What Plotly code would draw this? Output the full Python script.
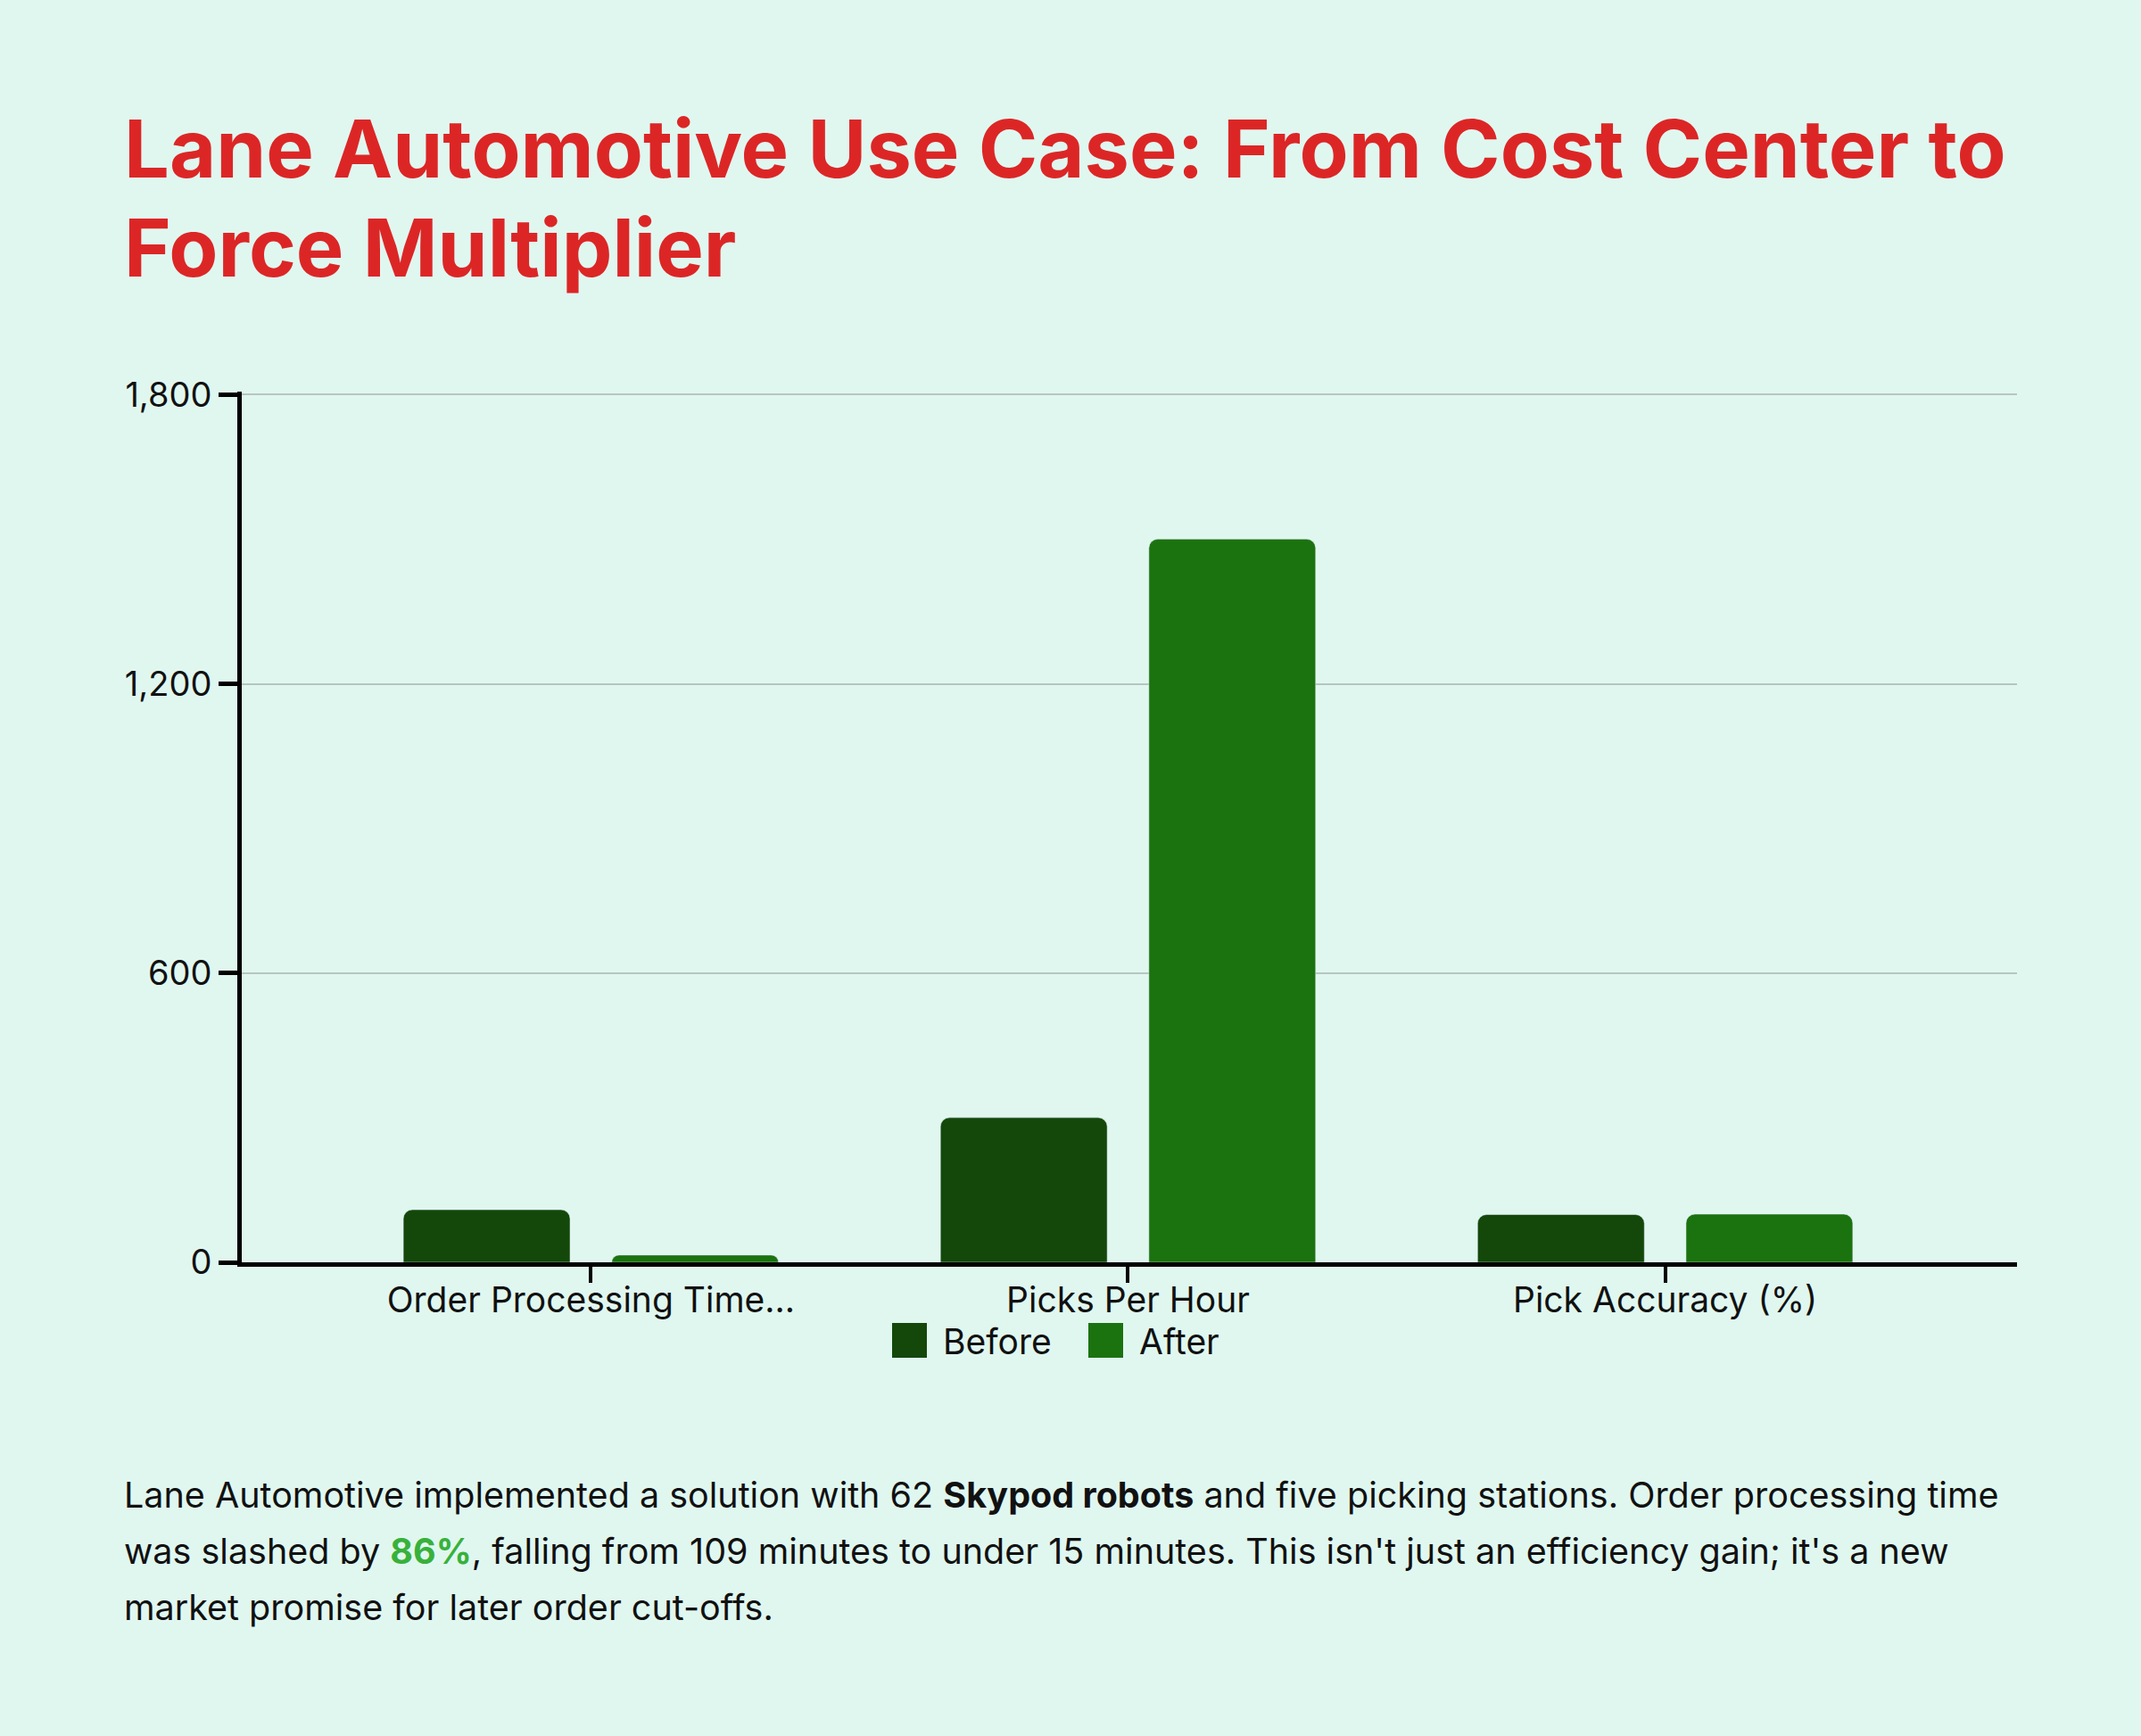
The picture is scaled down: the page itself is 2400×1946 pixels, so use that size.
import plotly.graph_objects as go

# ---- data ----
categories = ["Order Processing Time...", "Picks Per Hour", "Pick Accuracy (%)"]
before_values = [109, 300, 99]
after_values = [15, 1500, 99.9]
series_names = ["Before", "After"]
y_tick_values = [0, 600, 1200, 1800]

title_lines = ["Lane Automotive Use Case: From Cost Center to", "Force Multiplier"]
body_lines = [
    "Lane Automotive implemented a solution with 62 <b>Skypod robots</b> and five picking stations. Order processing time",
    "was slashed by <b><span style='color:#38b13a'>86%</span></b>, falling from 109 minutes to under 15 minutes. This isn't just an efficiency gain; it's a new",
    "market promise for later order cut-offs.",
]

# ---- style ----
W, H = 2400, 1946
BG = "#e0f7f0"
C_BEFORE = "#13480a"
C_AFTER = "#1b730f"
FONT = "Inter"
L, R, T, B = 271, 2261, 439, 1415


def px2x(px):
    return (px - L) / (R - L)


def py2y(py):
    return (B - py) / (B - T)


fig = go.Figure()
fig.add_bar(x=categories, y=before_values, name=series_names[0],
            marker=dict(color=C_BEFORE), showlegend=False)
fig.add_bar(x=categories, y=after_values, name=series_names[1],
            marker=dict(color=C_AFTER), showlegend=False)

fig.update_layout(
    width=W, height=H,
    margin=dict(l=L, r=W - R, t=T, b=H - B, autoexpand=False),
    paper_bgcolor=BG, plot_bgcolor=BG,
    barmode="group", bargap=0.224, bargroupgap=0.2, barcornerradius=10,
    font=dict(family=FONT, color="#111111"),
    showlegend=False,
)

fig.update_xaxes(
    type="category", range=[-0.65, 2.655],
    showline=True, linewidth=5, linecolor="#000000",
    ticks="outside", ticklen=18, tickwidth=4, tickcolor="#000000",
    ticklabelstandoff=-14,
    tickfont=dict(size=39, family=FONT, color="#111111"),
    showgrid=False,
)
fig.update_yaxes(
    range=[0, 1806], tickvals=y_tick_values, tickformat=",",
    showgrid=True, gridcolor="#b5c6c1", gridwidth=2,
    showline=True, linewidth=5, linecolor="#000000",
    ticks="outside", ticklen=21, tickwidth=5, tickcolor="#000000",
    tickfont=dict(size=38, family=FONT, color="#111111"),
    zeroline=False,
)

annotations = []
# title
for i, line in enumerate(title_lines):
    annotations.append(dict(
        xref="paper", yref="paper", x=px2x(137), y=py2y(166 + i * 112),
        xanchor="left", yanchor="middle", showarrow=False, align="left",
        text=line, font=dict(family=FONT, size=90, color="#dc2626", weight=700),
    ))
# body paragraph
for i, line in enumerate(body_lines):
    annotations.append(dict(
        xref="paper", yref="paper", x=px2x(137), y=py2y(1676 + i * 63),
        xanchor="left", yanchor="middle", showarrow=False, align="left",
        text=line, font=dict(family=FONT, size=39.5, color="#111111"),
    ))

# custom legend
legend_items = [(series_names[0], C_BEFORE, 1000), (series_names[1], C_AFTER, 1220)]
shapes = []
for name, col, x0 in legend_items:
    shapes.append(dict(type="rect", xref="paper", yref="paper",
                       x0=px2x(x0), x1=px2x(x0 + 39), y0=py2y(1522), y1=py2y(1483),
                       fillcolor=col, line=dict(width=0)))
    annotations.append(dict(
        xref="paper", yref="paper", x=px2x(x0 + 55), y=py2y(1503),
        xanchor="left", yanchor="middle", showarrow=False,
        text=name, font=dict(family=FONT, size=39, color="#111111"),
    ))

fig.update_layout(annotations=annotations, shapes=shapes)
fig.write_html("out.html")
